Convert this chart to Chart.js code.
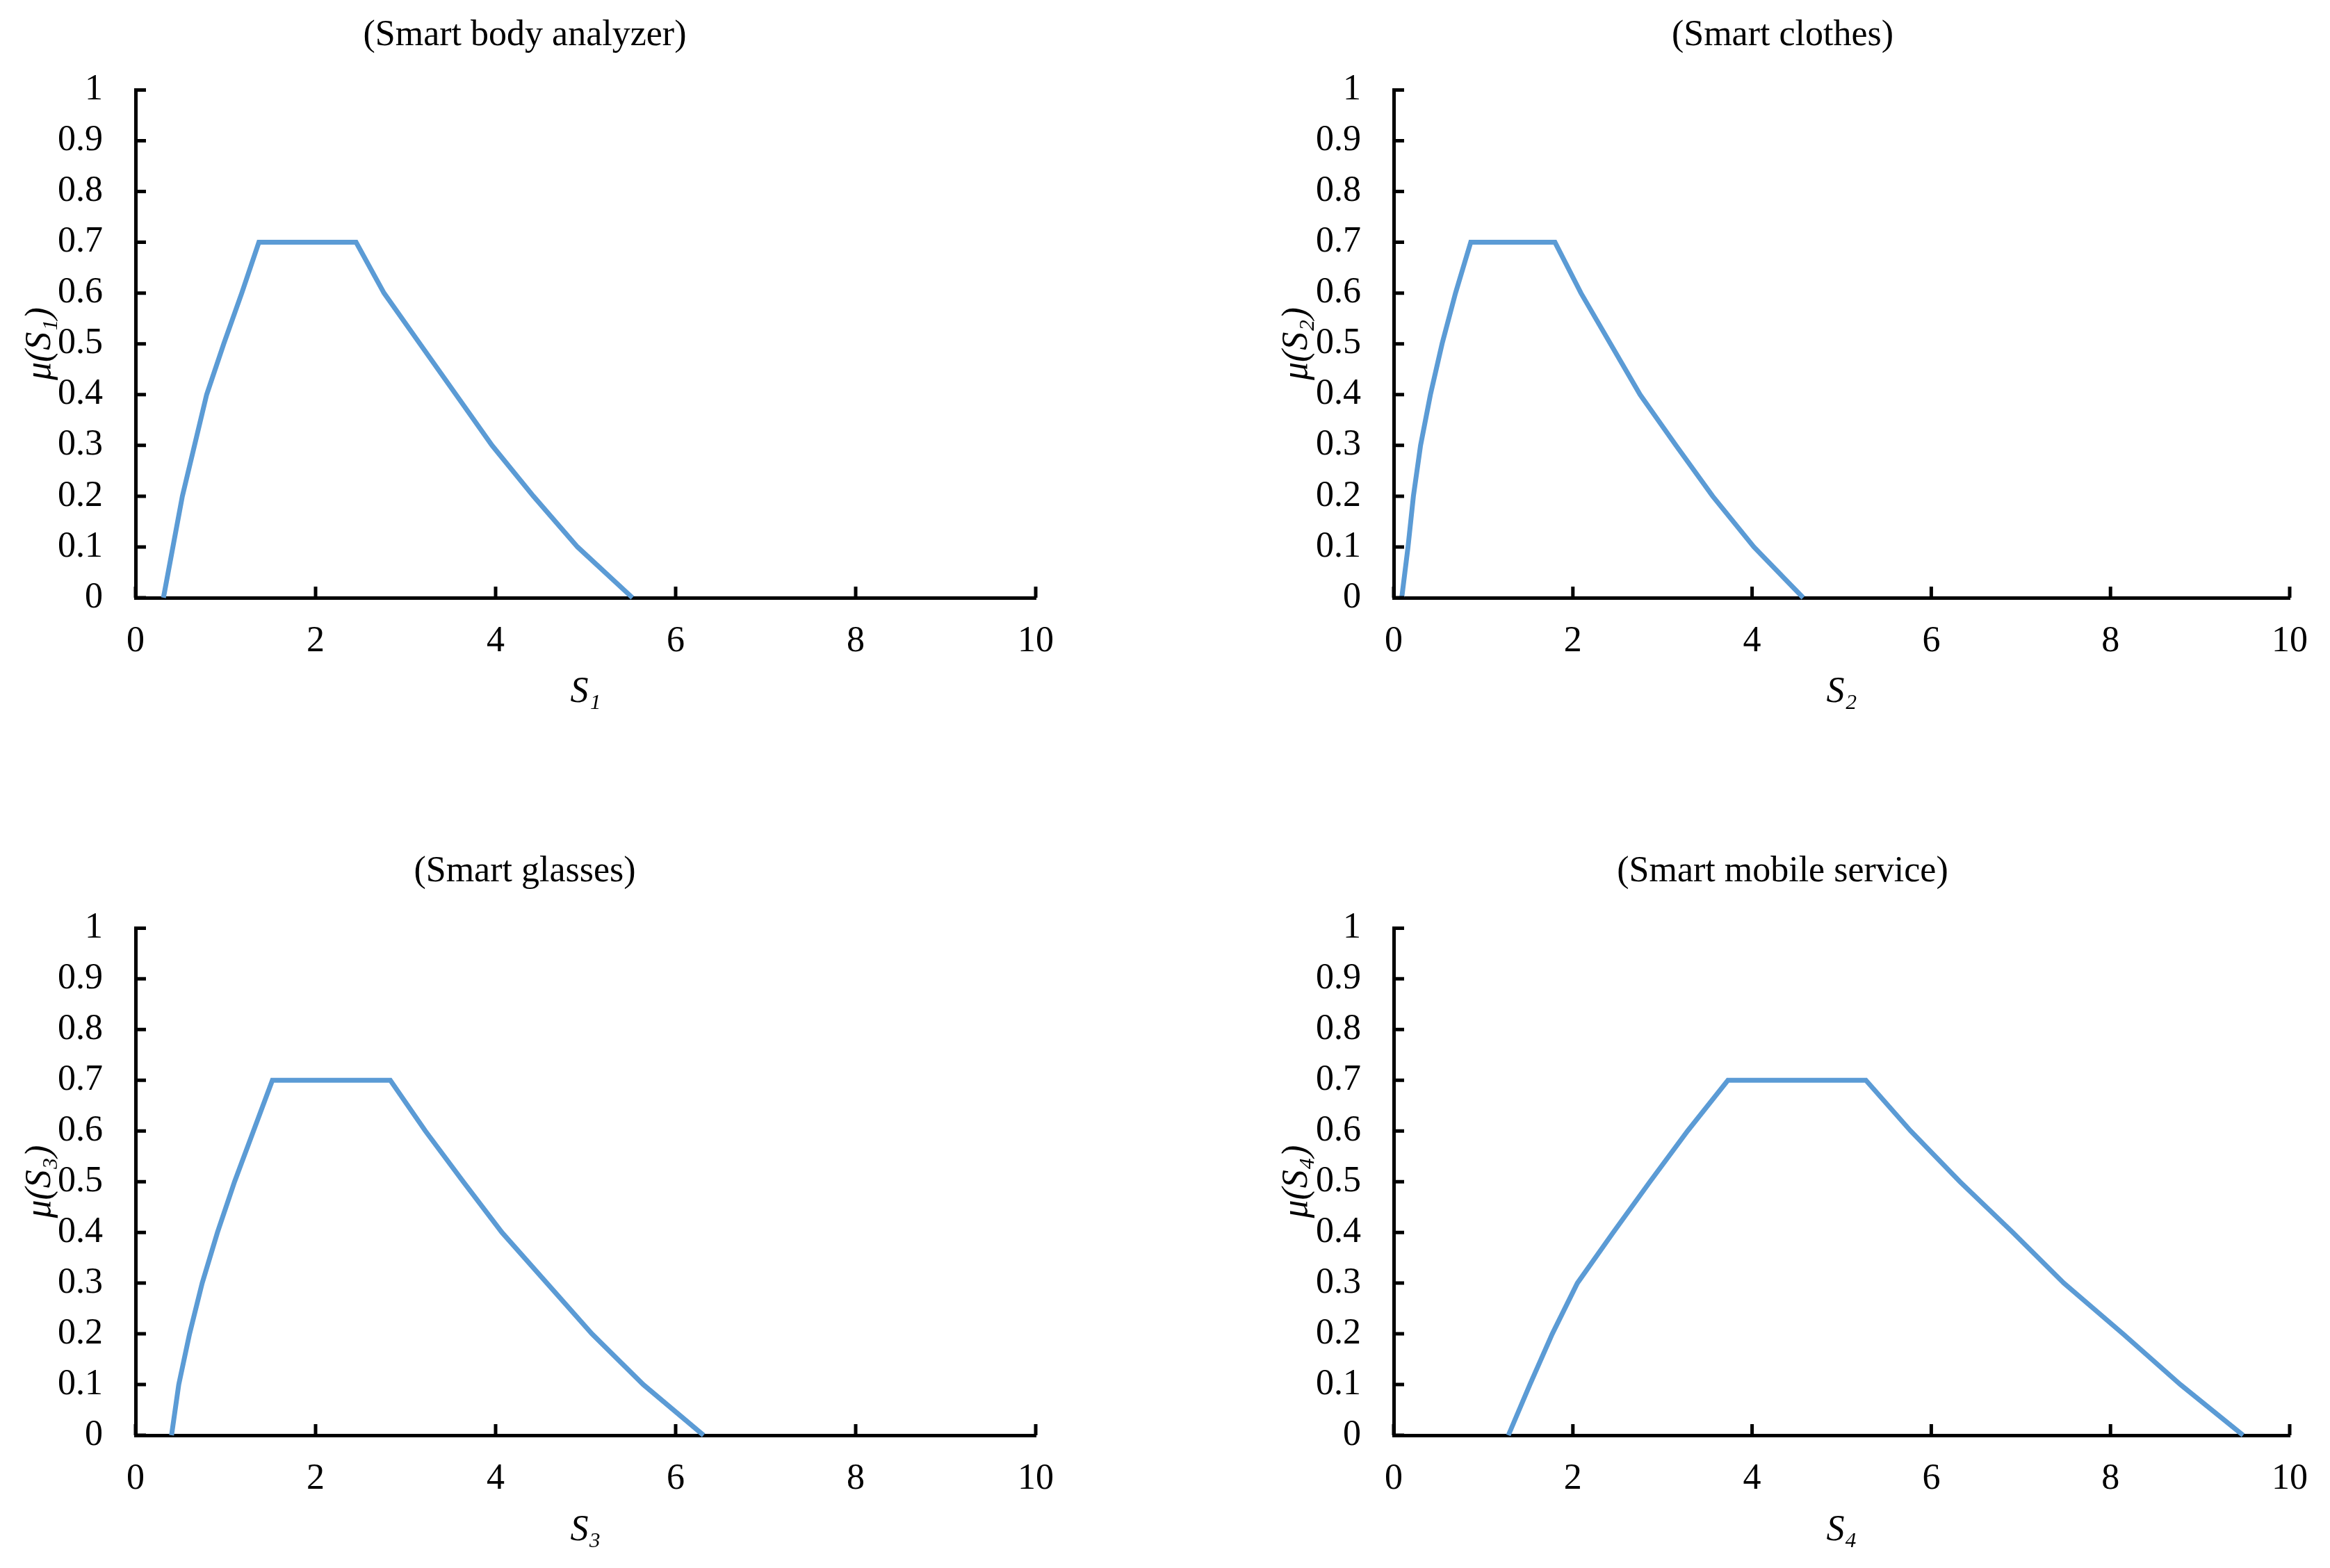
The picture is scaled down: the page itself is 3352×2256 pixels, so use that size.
<!DOCTYPE html>
<html>
<head>
<meta charset="utf-8">
<script src="https://cdn.jsdelivr.net/npm/chart.js@4.4.1/dist/chart.umd.min.js"></script>
<style>
  html, body { margin: 0; background: #fff; }
  body { width: 3352px; height: 2256px; position: relative; overflow: hidden; }
  canvas { position: absolute; }
</style>
</head>
<body>
<canvas id="c1" width="1676" height="1128" style="left:0;top:0"></canvas>
<canvas id="c2" width="1676" height="1128" style="left:1676px;top:0"></canvas>
<canvas id="c3" width="1676" height="1128" style="left:0;top:1128px"></canvas>
<canvas id="c4" width="1676" height="1128" style="left:1676px;top:1128px"></canvas>
<script>
// values
const s1X = [0.31, 0.52, 0.79, 0.98, 1.18, 1.37, 2.45, 2.76, 3.16, 3.56, 3.96, 4.42, 4.91, 5.52];
const s1Y = [0, 0.2, 0.4, 0.5, 0.6, 0.7, 0.7, 0.6, 0.5, 0.4, 0.3, 0.2, 0.1, 0];

const s2X = [0.09, 0.16, 0.22, 0.30, 0.41, 0.54, 0.69, 0.86, 1.80, 2.09, 2.42, 2.75, 3.15, 3.56, 4.02, 4.57];
const s2Y = [0, 0.1, 0.2, 0.3, 0.4, 0.5, 0.6, 0.7, 0.7, 0.6, 0.5, 0.4, 0.3, 0.2, 0.1, 0];

const s3X = [0.40, 0.48, 0.60, 0.74, 0.91, 1.10, 1.31, 1.52, 2.83, 3.22, 3.64, 4.07, 4.57, 5.07, 5.64, 6.31];
const s3Y = [0, 0.1, 0.2, 0.3, 0.4, 0.5, 0.6, 0.7, 0.7, 0.6, 0.5, 0.4, 0.3, 0.2, 0.1, 0];

const s4X = [1.28, 1.52, 1.77, 2.05, 2.45, 2.86, 3.28, 3.73, 5.27, 5.77, 6.32, 6.91, 7.48, 8.14, 8.78, 9.48];
const s4Y = [0, 0.1, 0.2, 0.3, 0.4, 0.5, 0.6, 0.7, 0.7, 0.6, 0.5, 0.4, 0.3, 0.2, 0.1, 0];

const xTicks = [0, 2, 4, 6, 8, 10];
const yTicks = [0, 0.1, 0.2, 0.3, 0.4, 0.5, 0.6, 0.7, 0.8, 0.9, 1];

const titles = ["(Smart body analyzer)", "(Smart clothes)", "(Smart glasses)", "(Smart mobile service)"];
const xTitles = ["S\u2081", "S\u2082", "S\u2083", "S\u2084"];
const yTitles = ["\u03bc(S\u2081)", "\u03bc(S\u2082)", "\u03bc(S\u2083)", "\u03bc(S\u2084)"];

Chart.defaults.font.family = "'Liberation Serif', 'Times New Roman', serif";
Chart.defaults.font.size = 52;
Chart.defaults.color = "#000";

// Excel style tick marks, pointing into the plot
const innerTicks = {
  id: "innerTicks",
  afterDraw(chart) {
    const { ctx, chartArea, scales } = chart;
    ctx.save();
    ctx.strokeStyle = "#000";
    ctx.lineWidth = 5;
    ctx.beginPath();
    scales.x.ticks.forEach(t => {
      const px = scales.x.getPixelForValue(t.value);
      ctx.moveTo(px, chartArea.bottom);
      ctx.lineTo(px, chartArea.bottom - 16);
    });
    scales.y.ticks.forEach(t => {
      const py = scales.y.getPixelForValue(t.value);
      ctx.moveTo(chartArea.left, py);
      ctx.lineTo(chartArea.left + 15, py);
    });
    ctx.stroke();
    ctx.restore();
  }
};

function makeChart(id, i, xs, ys, lay) {
  const ctx = document.getElementById(id).getContext("2d");
  new Chart(ctx, {
    type: "line",
    data: {
      datasets: [{
        data: xs.map((x, k) => ({ x: x, y: ys[k] })),
        borderColor: "#5B9BD5",
        borderWidth: 7,
        pointRadius: 0,
        tension: 0,
        clip: false
      }]
    },
    options: {
      responsive: false,
      animation: false,
      layout: { padding: { left: lay.padL, right: lay.padR, top: 0, bottom: 0 } },
      plugins: {
        legend: { display: false },
        tooltip: { enabled: false },
        title: {
          display: true,
          text: titles[i],
          font: { size: 52, weight: "normal" },
          padding: { top: lay.titleTop, bottom: lay.titleBottom }
        }
      },
      scales: {
        x: {
          type: "linear",
          min: 0,
          max: 10,
          afterBuildTicks: s => { s.ticks = xTicks.map(v => ({ value: v })); },
          afterFit: s => { s.height = lay.xHeight; },
          ticks: { padding: 32, callback: v => String(v) },
          grid: { display: false, drawTicks: false },
          border: { display: true, color: "#000", width: 5 },
          title: {
            display: true,
            text: xTitles[i],
            font: { size: 52, style: "italic" },
            padding: { top: 0, bottom: lay.xTitleBottom }
          }
        },
        y: {
          type: "linear",
          min: 0,
          max: 1,
          afterBuildTicks: s => { s.ticks = yTicks.map(v => ({ value: v })); },
          afterFit: s => { s.width = lay.yWidth; },
          ticks: { padding: 47, callback: v => String(v) },
          grid: { display: false, drawTicks: false },
          border: { display: true, color: "#000", width: 5 },
          title: {
            display: true,
            text: yTitles[i],
            font: { size: 52, style: "italic" },
            padding: { top: lay.yTitleTop, bottom: 0 }
          }
        }
      }
    },
    plugins: [innerTicks]
  });
}

const topRow = { titleTop: 20, titleBottom: 47, xHeight: 268, xTitleBottom: 100 };
const bottomRow = { titleTop: 95, titleBottom: 50, xHeight: 191, xTitleBottom: 22 };
const leftCol = { padL: 20, padR: 186, yWidth: 175, yTitleTop: 7 };
const rightCol = { padL: 120, padR: 19, yWidth: 209, yTitleTop: 39 };

makeChart("c1", 0, s1X, s1Y, Object.assign({}, topRow, leftCol));
makeChart("c2", 1, s2X, s2Y, Object.assign({}, topRow, rightCol));
makeChart("c3", 2, s3X, s3Y, Object.assign({}, bottomRow, leftCol));
makeChart("c4", 3, s4X, s4Y, Object.assign({}, bottomRow, rightCol));
</script>
</body>
</html>
